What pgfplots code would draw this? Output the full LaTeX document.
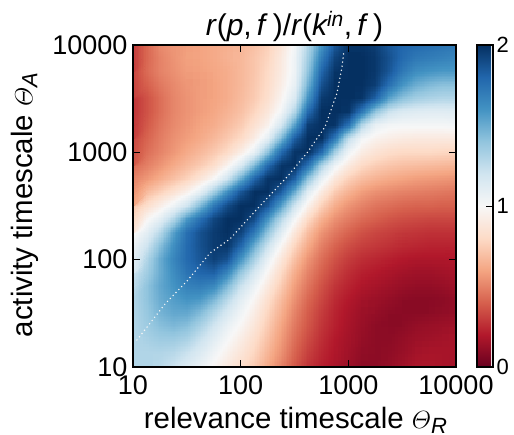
\documentclass[border=0pt]{standalone}
\usepackage{amsmath}
\usepackage{fontspec}
\setmainfont{Liberation Sans}
\usepackage{pgfplots}
\usepgfplotslibrary{patchplots}
\pgfplotsset{compat=1.18}
\pgfplotsset{colormap={rdbu}{
 rgb255(0)=(103,0,31) rgb255(2)=(178,24,43) rgb255(4)=(214,96,77) rgb255(6)=(244,165,130)
 rgb255(8)=(253,219,199) rgb255(10)=(247,247,247) rgb255(12)=(209,229,240) rgb255(14)=(146,197,222)
 rgb255(16)=(67,147,195) rgb255(18)=(33,102,172) rgb255(20)=(5,48,97)}}
\newcommand{\subs}[1]{\raisebox{-5pt}{\fontsize{22}{22}\selectfont\textit{#1}}}
\begin{document}
\begin{tikzpicture}[x=1pt,y=1pt]
\path[use as bounding box] (0,0) rectangle (514,434);
\begin{axis}[
 at={(133pt,67pt)}, anchor=south west,
 scale only axis, width=323pt, height=322pt,
 xmin=1,xmax=4,ymin=1,ymax=4,
 xtick={1,2,3,4}, ytick={1,2,3,4},
 xticklabels={10,100,1000,10000}, yticklabels={10,100,1000,10000},
 tick align=inside, tick pos=both, major tick length=7pt,
 tick style={black,line width=1pt},
 axis line style={line width=1.4pt},
 axis on top,
 ticklabel style={font=\fontsize{27}{28}\selectfont},
 xticklabel style={yshift=-5pt},
 yticklabel style={xshift=-2pt},
 xlabel={relevance timescale $\varTheta$\subs{R}},
 ylabel={activity timescale $\varTheta$\subs{A}},
 label style={font=\fontsize{29.4}{30}\selectfont},
 xlabel style={yshift=-6pt,xshift=1pt},
 ylabel style={yshift=7pt,xshift=1pt},
 title={\textit{r}(\textit{p},\,\textit{f}\,)/\textit{r}(\textit{k\textsuperscript{in}},\,\textit{f}\,)},
 title style={font=\fontsize{30}{32}\selectfont,yshift=-6pt},
 colormap name=rdbu,
 point meta min=0, point meta max=2,
 colorbar,
 colorbar style={
  at={(1.065,1)}, anchor=north west,
  width=16pt, height=322pt,
  ytick={0,1,2}, yticklabels={0,1,2},
  tick pos=right, tick align=inside, major tick length=7pt,
  tick style={black,line width=1pt},
  axis line style={line width=1.4pt},
  yticklabel style={font=\fontsize{22}{24}\selectfont,xshift=0pt},
 },
]
\addplot[surf, shader=interp, patch type=bilinear, mesh/cols=25, point meta=\thisrow{z}] table[row sep=\\,
 x expr={1+mod(\coordindex,25)*0.125}, y expr={1+floor(\coordindex/25)*0.125}] {
z\\
1.3\\1.3\\1.28\\1.22\\1.15\\1.07\\.98\\.9\\.82\\.74\\.62\\.5\\.38\\.28\\.22\\.18\\.14\\.1\\.1\\.12\\.15\\.18\\.18\\.17\\.16\\
1.3\\1.3\\1.3\\1.28\\1.22\\1.14\\1.04\\.95\\.87\\.78\\.66\\.54\\.41\\.31\\.24\\.19\\.15\\.11\\.1\\.11\\.13\\.16\\.17\\.17\\.17\\
1.3\\1.33\\1.36\\1.36\\1.32\\1.22\\1.11\\1.01\\.92\\.82\\.7\\.57\\.44\\.34\\.26\\.2\\.16\\.12\\.1\\.1\\.12\\.14\\.15\\.16\\.17\\
1.3\\1.36\\1.42\\1.45\\1.42\\1.32\\1.19\\1.07\\.98\\.87\\.74\\.6\\.47\\.37\\.28\\.22\\.17\\.13\\.1\\.09\\.1\\.12\\.13\\.14\\.15\\
1.3\\1.38\\1.47\\1.52\\1.52\\1.44\\1.3\\1.16\\1.04\\.92\\.78\\.64\\.5\\.39\\.3\\.23\\.18\\.14\\.12\\.1\\.09\\.09\\.1\\.11\\.12\\
1.3\\1.4\\1.5\\1.56\\1.6\\1.58\\1.46\\1.28\\1.11\\.98\\.83\\.68\\.54\\.42\\.33\\.25\\.2\\.16\\.14\\.12\\.1\\.09\\.09\\.1\\.12\\
1.3\\1.4\\1.52\\1.6\\1.68\\1.7\\1.65\\1.45\\1.22\\1.06\\.9\\.74\\.58\\.46\\.36\\.28\\.23\\.19\\.17\\.15\\.13\\.12\\.12\\.13\\.15\\
1.22\\1.35\\1.5\\1.63\\1.74\\1.8\\1.82\\1.66\\1.38\\1.17\\.98\\.8\\.63\\.5\\.4\\.32\\.26\\.22\\.2\\.18\\.16\\.15\\.15\\.16\\.17\\
1.15\\1.3\\1.5\\1.66\\1.78\\1.86\\1.94\\1.88\\1.6\\1.33\\1.08\\.88\\.7\\.55\\.44\\.36\\.3\\.26\\.24\\.22\\.2\\.19\\.19\\.19\\.2\\
1.06\\1.2\\1.42\\1.62\\1.78\\1.88\\1.96\\1.98\\1.8\\1.5\\1.22\\.98\\.78\\.62\\.49\\.41\\.35\\.31\\.29\\.27\\.25\\.24\\.23\\.23\\.23\\
.98\\1.1\\1.28\\1.55\\1.76\\1.88\\1.96\\2\\1.93\\1.72\\1.4\\1.12\\.88\\.69\\.55\\.47\\.41\\.36\\.33\\.31\\.29\\.28\\.27\\.27\\.27\\
.86\\.98\\1.1\\1.3\\1.58\\1.76\\1.92\\2\\2\\1.9\\1.6\\1.28\\1.02\\.8\\.64\\.54\\.48\\.43\\.4\\.37\\.35\\.34\\.33\\.33\\.33\\
.72\\.82\\.93\\1.05\\1.2\\1.45\\1.72\\1.9\\2\\2\\1.86\\1.55\\1.2\\.95\\.76\\.63\\.55\\.5\\.46\\.44\\.42\\.41\\.41\\.4\\.4\\
.6\\.68\\.76\\.85\\.95\\1.1\\1.35\\1.62\\1.86\\2\\2\\1.83\\1.5\\1.12\\.9\\.74\\.65\\.58\\.54\\.52\\.5\\.49\\.48\\.47\\.46\\
.5\\.56\\.63\\.7\\.77\\.87\\1.0\\1.2\\1.5\\1.8\\1.98\\2\\1.82\\1.4\\1.08\\.88\\.76\\.69\\.65\\.62\\.6\\.58\\.57\\.56\\.55\\
.43\\.49\\.55\\.62\\.68\\.74\\.82\\.96\\1.15\\1.45\\1.78\\1.98\\2\\1.75\\1.32\\1.05\\.9\\.8\\.75\\.72\\.7\\.69\\.68\\.67\\.66\\
.37\\.44\\.5\\.56\\.62\\.67\\.73\\.8\\.92\\1.08\\1.4\\1.78\\1.98\\2\\1.78\\1.35\\1.05\\.92\\.86\\.82\\.8\\.8\\.8\\.79\\.78\\
.33\\.41\\.48\\.54\\.58\\.62\\.67\\.73\\.8\\.92\\1.1\\1.45\\1.83\\2\\2\\1.72\\1.25\\1.03\\.96\\.93\\.91\\.9\\.9\\.9\\.9\\
.3\\.38\\.46\\.52\\.56\\.6\\.63\\.68\\.74\\.84\\.95\\1.18\\1.55\\1.95\\2\\1.98\\1.75\\1.3\\1.08\\1.03\\1.02\\1.02\\1.02\\1.02\\1.03\\
.28\\.36\\.44\\.51\\.55\\.58\\.61\\.65\\.7\\.78\\.88\\1.03\\1.3\\1.78\\2\\2\\1.98\\1.72\\1.4\\1.22\\1.15\\1.13\\1.12\\1.12\\1.13\\
.28\\.36\\.44\\.51\\.55\\.58\\.6\\.63\\.68\\.74\\.83\\.97\\1.15\\1.6\\1.96\\2\\2\\1.98\\1.82\\1.55\\1.42\\1.35\\1.32\\1.3\\1.3\\
.31\\.4\\.47\\.52\\.56\\.58\\.6\\.63\\.67\\.73\\.81\\.93\\1.08\\1.48\\1.88\\2\\2\\2\\1.95\\1.76\\1.6\\1.5\\1.45\\1.42\\1.42\\
.33\\.43\\.5\\.54\\.58\\.59\\.61\\.63\\.67\\.72\\.8\\.91\\1.05\\1.4\\1.8\\1.98\\2\\2\\1.97\\1.86\\1.72\\1.63\\1.6\\1.58\\1.58\\
.3\\.42\\.5\\.55\\.59\\.6\\.62\\.65\\.67\\.72\\.78\\.9\\1.05\\1.35\\1.7\\1.93\\2\\2\\1.97\\1.88\\1.78\\1.72\\1.7\\1.68\\1.66\\
.3\\.42\\.52\\.56\\.58\\.6\\.62\\.64\\.66\\.7\\.76\\.87\\1.03\\1.3\\1.6\\1.85\\1.98\\1.98\\1.95\\1.85\\1.8\\1.78\\1.76\\1.74\\1.72\\
};
\addplot[white!92!gray, line width=1.6pt, line cap=round, dash pattern=on 0pt off 4.1pt] coordinates {
(1.037,1.252) (1.297,1.587) (1.511,1.811) (1.715,2.062) (1.901,2.193) (2.161,2.481) (2.430,2.770) (2.616,2.994) (2.783,3.236) (2.895,3.553) (2.941,3.795) (2.960,3.953)
};
\end{axis}
\end{tikzpicture}
\end{document}
